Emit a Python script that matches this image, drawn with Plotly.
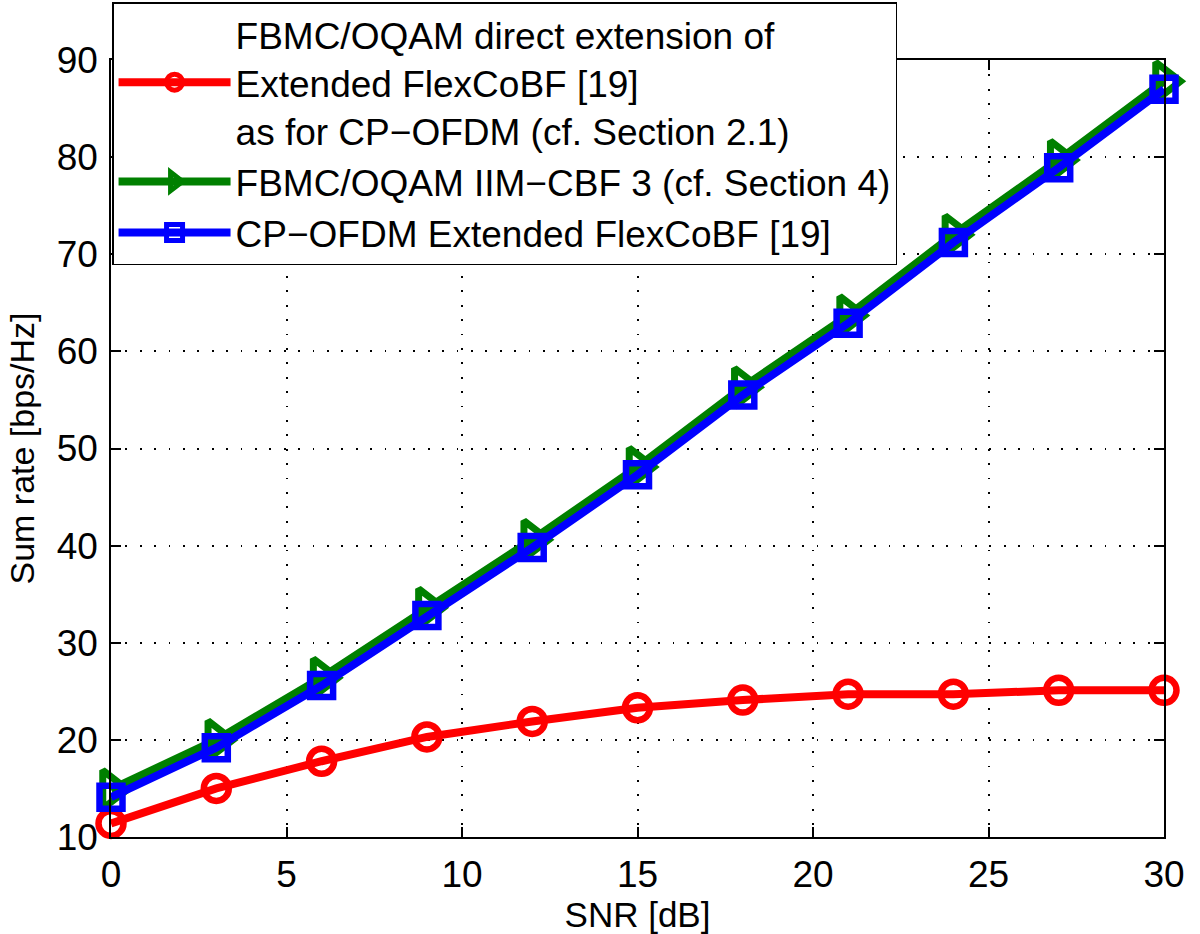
import plotly.graph_objects as go

snr_db = [0, 3, 6, 9, 12, 15, 18, 21, 24, 27, 30]
fbmc_direct = [11.4, 15.0, 17.8, 20.3, 21.9, 23.3, 24.1, 24.7, 24.7, 25.1, 25.1]
fbmc_iim = [14.9, 20.0, 26.4, 33.6, 40.6, 48.1, 56.3, 63.7, 72.0, 79.7, 87.8]
cp_ofdm = [14.1, 19.2, 25.6, 32.8, 39.8, 47.3, 55.5, 62.9, 71.2, 78.9, 87.0]

names = [
    "FBMC/OQAM direct extension of<br>Extended FlexCoBF [19]<br>as for CP\u2212OFDM (cf. Section 2.1)",
    "FBMC/OQAM IIM\u2212CBF 3 (cf. Section 4)",
    "CP\u2212OFDM Extended FlexCoBF [19]",
]
x_ticks = [0, 5, 10, 15, 20, 25, 30]
y_ticks = [10, 20, 30, 40, 50, 60, 70, 80, 90]

FONT = "Liberation Sans, Arial, Helvetica, sans-serif"

fig = go.Figure()
fig.add_trace(go.Scatter(
    x=snr_db, y=fbmc_direct, name=names[0], mode="lines+markers",
    line=dict(color="#ff0000", width=8),
    marker=dict(symbol="circle-open", size=25, color="#ff0000", line=dict(width=6.5, color="#ff0000")),
    cliponaxis=False,
))
fig.add_trace(go.Scatter(
    x=snr_db, y=fbmc_iim, name=names[1], mode="lines+markers",
    line=dict(color="#008000", width=8),
    marker=dict(symbol="triangle-right-open", size=33, color="#008000", line=dict(width=7, color="#008000")),
    cliponaxis=False,
))
fig.add_trace(go.Scatter(
    x=snr_db, y=cp_ofdm, name=names[2], mode="lines+markers",
    line=dict(color="#0000ff", width=8),
    marker=dict(symbol="square-open", size=23, color="#0000ff", line=dict(width=6.5, color="#0000ff")),
    cliponaxis=False,
))

axis_common = dict(
    showline=True, linecolor="black", linewidth=1.5, mirror="ticks",
    ticks="inside", ticklen=10, tickwidth=1.5, tickcolor="black",
    showgrid=True, gridcolor="black", gridwidth=1.8, griddash="1.8px,12.6px",
    zeroline=False, automargin=False,
    tickfont=dict(family=FONT, size=37, color="black"),
)
fig.update_xaxes(range=[0, 30], tickvals=x_ticks, ticktext=[str(v) for v in x_ticks],
                 title=dict(text="SNR [dB]", font=dict(family=FONT, size=35, color="black"), standoff=8),
                 ticklabelstandoff=4,
                 **axis_common)
fig.update_yaxes(range=[10, 90], tickvals=y_ticks, ticktext=[str(v) for v in y_ticks],
                 title=dict(text="Sum rate [bps/Hz]", font=dict(family=FONT, size=34, color="black"), standoff=12),
                 ticklabelstandoff=4,
                 **axis_common)

fig.update_layout(
    width=1200, height=934,
    margin=dict(l=111, r=36, t=60, b=97, autoexpand=False),
    paper_bgcolor="white", plot_bgcolor="white",
    font=dict(family=FONT, color="black"),
    legend=dict(
        x=0.001, y=1.0746, xanchor="left", yanchor="top",
        bgcolor="white", bordercolor="black", borderwidth=1.5,
        font=dict(family=FONT, size=37, color="black"),
        itemwidth=112, tracegroupgap=0,
    ),
)

fig.write_html("out.html", config={"displayModeBar": False},
               post_script="document.body.style.margin='0';")
